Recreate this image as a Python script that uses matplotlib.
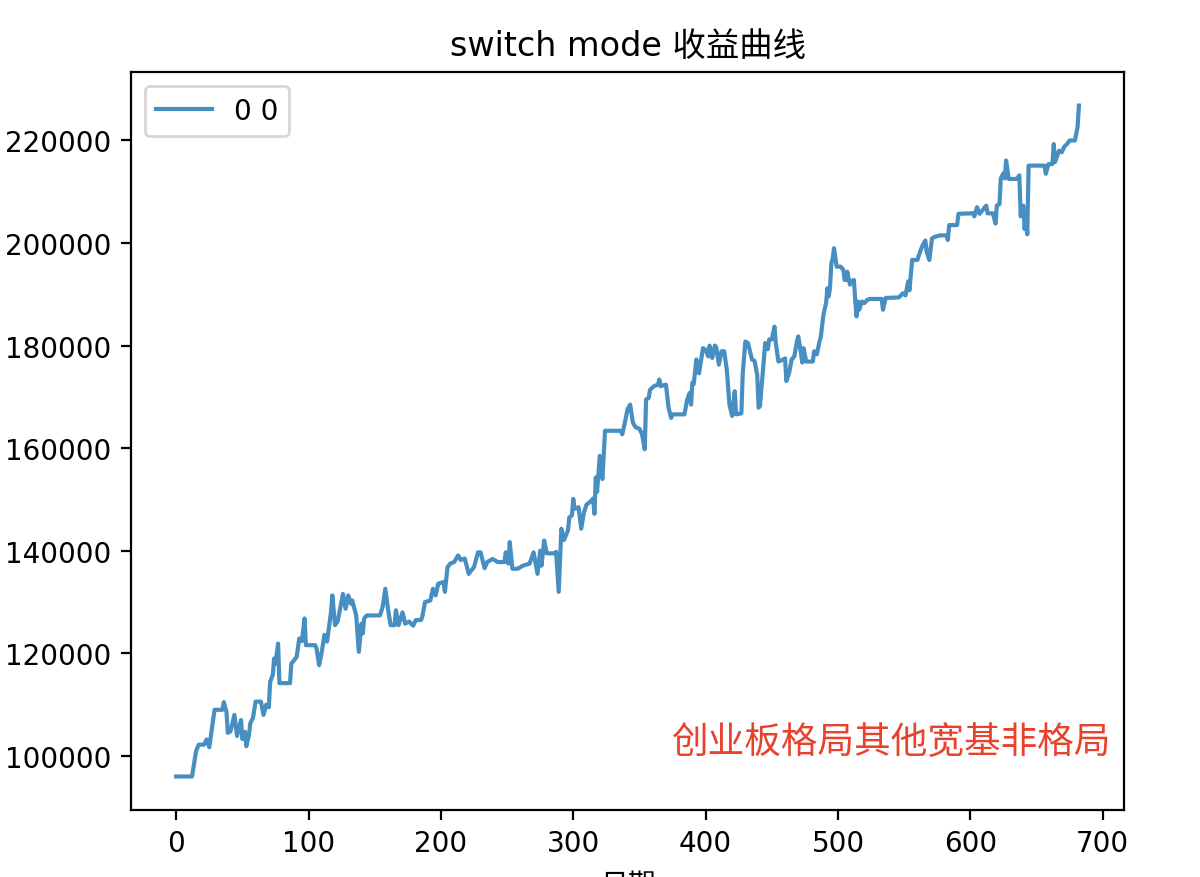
import matplotlib
matplotlib.use('Agg')
import matplotlib.pyplot as plt

# trading-day index and account value
days = [0, 12, 15, 17, 21, 23, 25, 26, 29, 35, 36, 38, 39, 41, 44, 46, 49, 50, 52, 53,
        55, 56, 58, 60, 64, 66, 68, 70, 71, 73, 74, 75, 77, 78, 86, 87, 90, 91, 93, 95,
        97, 98, 105, 106, 108, 110, 112, 114, 117, 118, 120, 122, 126, 128, 130, 132, 133, 136, 138, 140,
        141, 142, 144, 154, 156, 158, 160, 162, 165, 166, 168, 171, 173, 176, 179, 181, 185, 186, 188, 192,
        194, 196, 198, 202, 203, 205, 207, 210, 213, 215, 218, 221, 223, 225, 228, 230, 233, 235, 239, 243,
        248, 249, 251, 252, 254, 258, 262, 267, 270, 273, 275, 276, 278, 280, 286, 287, 289, 291, 293, 296,
        297, 299, 300, 301, 304, 306, 308, 310, 313, 315, 316, 317, 318, 320, 322, 324, 336, 337, 339, 341,
        343, 345, 347, 350, 352, 354, 355, 357, 358, 361, 364, 365, 366, 370, 372, 374, 375, 384, 386, 388,
        389, 390, 391, 393, 395, 398, 400, 402, 403, 405, 407, 408, 410, 412, 414, 416, 417, 418, 420, 422,
        423, 427, 428, 430, 432, 435, 437, 439, 440, 441, 443, 445, 447, 448, 450, 452, 453, 455, 458, 460,
        461, 463, 465, 467, 469, 470, 472, 473, 474, 476, 481, 482, 484, 486, 487, 489, 491, 492, 493, 494,
        495, 496, 497, 499, 502, 504, 505, 506, 507, 509, 510, 512, 513, 514, 515, 516, 518, 520, 522, 524,
        533, 534, 536, 546, 549, 551, 553, 554, 556, 560, 562, 564, 566, 567, 569, 571, 573, 577, 582, 583,
        584, 590, 591, 602, 603, 605, 607, 612, 613, 617, 619, 620, 622, 623, 625, 626, 627, 629, 635, 637,
        638, 640, 641, 642, 643, 644, 656, 657, 659, 662, 663, 664, 667, 669, 671, 673, 675, 679, 681, 682]

value = [96000, 96000, 100900, 102200, 102200, 103200, 101700, 103500, 109000, 109000,
         110500, 108600, 104500, 104800, 108000, 103900, 107000, 103300, 104700, 101900,
         104100, 106400, 107400, 110600, 110600, 108000, 110000, 109500, 114500, 115800,
         119000, 118000, 121900, 114200, 114200, 118000, 119000, 119300, 122900, 122400,
         126800, 121600, 121600, 121000, 117700, 120300, 123600, 122300, 128100, 131300,
         125500, 126200, 131600, 128700, 131300, 129700, 130300, 127400, 120300, 125800,
         123900, 126800, 127400, 127400, 129100, 132600, 128700, 125500, 125500, 128400,
         125500, 128000, 125800, 126200, 125400, 126500, 126500, 127200, 130000, 130300,
         132600, 131300, 133600, 133900, 132000, 136800, 137500, 137800, 139100, 138200,
         138500, 135500, 136200, 136800, 139700, 139700, 136600, 137800, 138400, 137800,
         137800, 139700, 137500, 141700, 136500, 136500, 137100, 137500, 139700, 135500,
         140000, 137100, 142000, 139500, 139500, 139800, 132000, 144300, 142100, 144000,
         146500, 146900, 150100, 148200, 148500, 144300, 147400, 149000, 149600, 150200,
         147200, 154300, 151500, 158500, 154000, 163400, 163400, 162700, 165000, 167600,
         168500, 165000, 164100, 163800, 162700, 159800, 169500, 169800, 171400, 172100,
         172400, 173400, 172100, 172400, 167900, 165900, 166600, 166600, 169400, 170800,
         168500, 172800, 172500, 177300, 174600, 179500, 179200, 177900, 180000, 177600,
         180000, 179700, 176300, 178900, 178900, 175300, 172000, 168500, 166300, 171100,
         166600, 166800, 174400, 180800, 180500, 177300, 177000, 174200, 167900, 168200,
         174200, 180500, 179300, 181200, 181200, 183700, 180500, 176900, 177200, 177500,
         173100, 174600, 177300, 177900, 180800, 181800, 178600, 176700, 179500, 176900,
         176900, 178900, 178300, 180800, 181700, 186000, 188300, 191200, 189600, 191500,
         196100, 197000, 199000, 195400, 195400, 194800, 192800, 192800, 194400, 191900,
         192500, 192800, 188900, 185700, 188600, 187000, 188600, 188300, 188900, 189100,
         189100, 187000, 189300, 189400, 190200, 189800, 192500, 190800, 196700, 196700,
         198300, 199600, 200500, 198300, 196700, 200900, 201200, 201500, 201500, 200600,
         203500, 203500, 205700, 205800, 205200, 207000, 205700, 207300, 205800, 205800,
         203800, 207300, 207600, 212600, 213600, 212600, 216100, 212500, 212500, 213200,
         205200, 207300, 202700, 206000, 201700, 215100, 215100, 213500, 215400, 215400,
         219300, 215800, 218000, 217700, 218800, 219300, 220000, 220000, 222600, 226800]

series_label = '0 0'
title_text = 'switch mode 收益曲线'
xlabel_text = '日期'
note_text = '创业板格局其他宽基非格局'

fig = plt.figure(figsize=(6, 4.39), dpi=200)
ax = fig.add_axes([0.1092, 0.0763, 0.8275, 0.8405])

ax.plot(days, value, color='#1f77b4', alpha=0.82, linewidth=1.5, label=series_label)
ax.set_title(title_text, fontsize=12, family=['DejaVu Sans', 'Noto Sans CJK SC'])
ax.set_xlabel(xlabel_text, family=['Noto Sans CJK SC', 'DejaVu Sans'])
ax.legend(loc='upper left')
ax.text(0.986, 0.0935, note_text, transform=ax.transAxes, ha='right', va='center',
        fontsize=13.2, color='#e9412b', family=['Noto Sans CJK SC', 'DejaVu Sans'])

fig.savefig('out.png', dpi=200)
